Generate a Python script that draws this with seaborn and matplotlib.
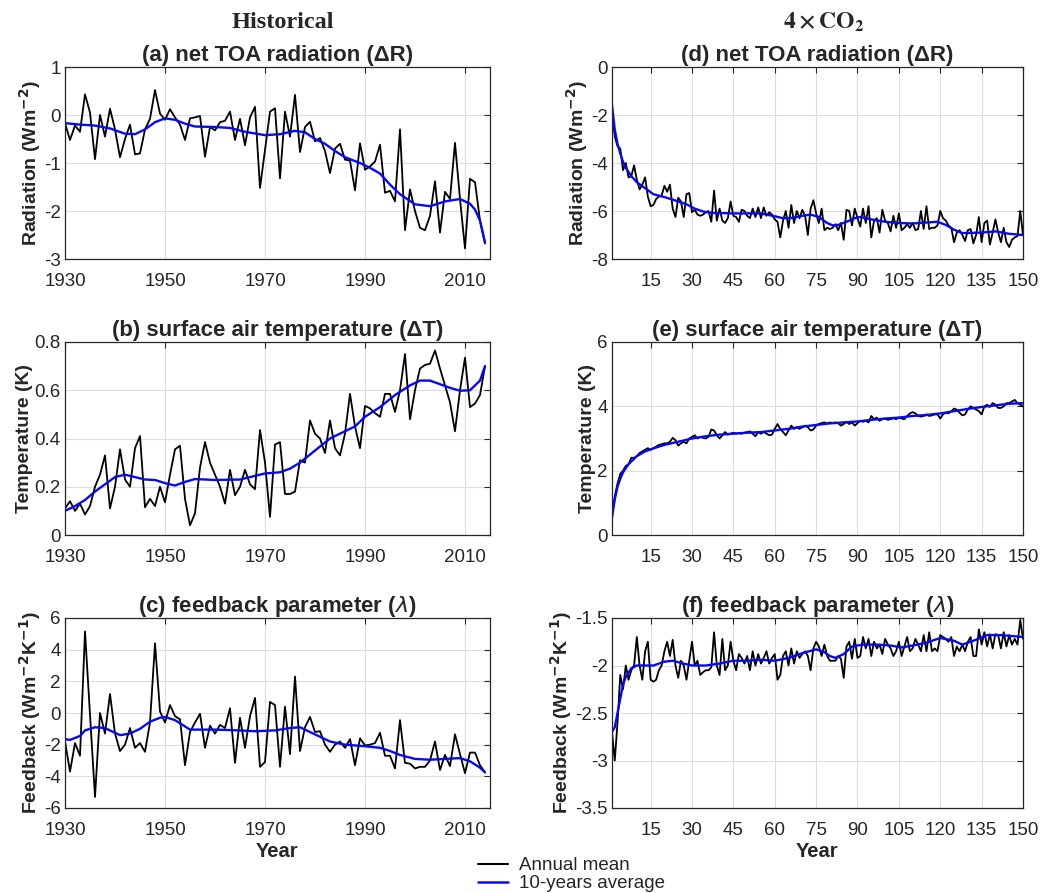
import numpy as np
import pandas as pd
import matplotlib
matplotlib.use('Agg')
import matplotlib.pyplot as plt
from matplotlib.lines import Line2D
import seaborn as sns
# Import the plotting packages

hist_years = list(range(1930, 2015))
exp_years = list(range(1, 151))

rad_hist = [-0.17, -0.52, -0.22, -0.35, 0.43, 0.05, -0.92, 0.00, -0.45, 0.13,
            -0.30, -0.88, -0.50, -0.20, -0.82, -0.80, -0.30, -0.08, 0.52, 0.03,
            -0.10, 0.12, -0.05, -0.20, -0.52, -0.07, -0.05, -0.02, -0.87, -0.25,
            -0.32, -0.15, -0.12, 0.07, -0.52, -0.08, -0.63, -0.05, 0.17, -1.52,
            -0.73, 0.07, 0.14, -1.32, 0.07, -0.45, 0.42, -0.77, -0.25, -0.14,
            -0.55, -0.48, -0.75, -1.21, -0.70, -0.60, -0.93, -0.95, -1.57, -0.59,
            -1.14, -1.07, -0.97, -0.62, -1.62, -1.58, -1.80, -0.30, -2.40, -1.55,
            -2.00, -2.35, -2.40, -2.10, -1.38, -2.45, -1.60, -1.75, -0.58, -1.75,
            -2.78, -1.33, -1.40, -2.20, -2.68]
rad_hist_smooth_years = [1930, 1933, 1936, 1939, 1942, 1944, 1946, 1948, 1950, 1952, 1954, 1956,
                         1960, 1963, 1966, 1970, 1973, 1976, 1978, 1980, 1982, 1984, 1986, 1989,
                         1991, 1993, 1995, 1997, 2000, 2003, 2006, 2009, 2011, 2012, 2013, 2014]
rad_hist_smooth = [-0.17, -0.20, -0.22, -0.28, -0.39, -0.40, -0.30, -0.15, -0.07, -0.10, -0.18, -0.24,
                   -0.25, -0.27, -0.35, -0.42, -0.40, -0.33, -0.36, -0.50, -0.60, -0.75, -0.88, -1.00,
                   -1.10, -1.22, -1.45, -1.65, -1.86, -1.90, -1.80, -1.75, -1.85, -1.97, -2.20, -2.65]

temp_hist = [0.11, 0.14, 0.10, 0.13, 0.085, 0.12, 0.20, 0.25, 0.33, 0.11,
             0.20, 0.355, 0.23, 0.20, 0.36, 0.41, 0.115, 0.15, 0.12, 0.20,
             0.135, 0.25, 0.355, 0.37, 0.15, 0.04, 0.09, 0.28, 0.385, 0.30,
             0.25, 0.20, 0.13, 0.27, 0.165, 0.20, 0.27, 0.21, 0.19, 0.435,
             0.30, 0.075, 0.375, 0.385, 0.17, 0.17, 0.18, 0.31, 0.30, 0.475,
             0.42, 0.40, 0.34, 0.475, 0.36, 0.33, 0.42, 0.585, 0.45, 0.36,
             0.535, 0.525, 0.505, 0.49, 0.585, 0.585, 0.51, 0.60, 0.75, 0.48,
             0.60, 0.69, 0.705, 0.71, 0.765, 0.69, 0.62, 0.55, 0.43, 0.60,
             0.735, 0.53, 0.545, 0.58, 0.70]
temp_hist_smooth_years = [1930, 1932, 1934, 1936, 1938, 1940, 1942, 1944, 1946, 1948, 1950, 1952,
                          1954, 1956, 1960, 1965, 1968, 1970, 1973, 1975, 1977, 1980, 1983, 1986,
                          1988, 1990, 1993, 1996, 1999, 2001, 2003, 2005, 2007, 2009, 2011, 2013, 2014]
temp_hist_smooth = [0.10, 0.12, 0.145, 0.18, 0.21, 0.24, 0.25, 0.24, 0.23, 0.228, 0.215, 0.205,
                    0.22, 0.232, 0.228, 0.23, 0.245, 0.255, 0.26, 0.275, 0.30, 0.35, 0.40, 0.43,
                    0.45, 0.49, 0.53, 0.58, 0.62, 0.64, 0.64, 0.625, 0.61, 0.598, 0.60, 0.64, 0.70]

fb_hist = [-1.80, -3.70, -1.90, -2.70, 5.15, -0.10, -5.30, 0.00, -1.30, 1.20,
           -1.30, -2.40, -2.00, -0.95, -2.20, -1.90, -2.45, -0.60, 4.40, 0.10,
           -0.60, 0.50, -0.20, -0.40, -3.30, -1.20, -0.60, -0.05, -2.20, -0.80,
           -1.30, -0.75, -0.95, 0.30, -3.15, -0.30, -2.20, -0.20, 0.95, -3.40,
           -3.10, 0.70, 0.50, -3.40, 0.40, -2.60, 2.30, -2.40, -0.90, -0.25,
           -1.20, -1.15, -2.00, -2.45, -2.00, -1.80, -2.20, -1.65, -3.30, -1.60,
           -2.05, -2.00, -1.90, -1.25, -2.70, -2.70, -3.50, -0.45, -3.15, -3.20,
           -3.50, -3.40, -3.40, -3.00, -1.80, -3.60, -2.65, -3.35, -1.35, -2.60,
           -3.80, -2.50, -2.50, -3.30, -3.75]
fb_hist_smooth_years = [1930, 1931, 1933, 1934, 1936, 1938, 1941, 1943, 1945, 1947, 1949, 1950,
                        1952, 1954, 1955, 1960, 1965, 1968, 1972, 1975, 1977, 1979, 1981, 1983,
                        1986, 1990, 1993, 1995, 1997, 2000, 2003, 2006, 2009, 2011, 2013, 2014]
fb_hist_smooth = [-1.65, -1.70, -1.45, -1.10, -0.90, -0.95, -1.40, -1.30, -1.00, -0.55, -0.30, -0.25,
                  -0.45, -0.85, -1.05, -1.05, -1.10, -1.15, -1.10, -0.95, -0.90, -1.20, -1.50, -1.80,
                  -2.00, -2.10, -2.20, -2.40, -2.65, -2.90, -2.95, -2.90, -2.85, -3.05, -3.45, -3.75]

rad_4x = [-1.8, -2.9, -3.3, -3.4, -4.3, -4.0, -4.6, -4.55, -4.1, -4.7,
          -5.1, -4.9, -4.6, -5.4, -5.8, -5.75, -5.5, -5.4, -5.35, -4.95,
          -5.2, -4.9, -5.9, -6.25, -5.45, -5.6, -6.25, -5.3, -5.25, -6.05,
          -5.95, -6.15, -6.2, -6.15, -6.05, -6.0, -6.45, -5.15, -6.4, -5.9,
          -6.4, -6.5, -6.3, -5.6, -6.2, -6.25, -6.45, -5.95, -6.0, -6.2,
          -6.3, -5.9, -6.25, -5.85, -6.3, -5.85, -6.2, -6.05, -6.15, -6.35,
          -6.45, -7.1, -6.4, -6.0, -6.7, -5.75, -6.5, -6.0, -6.3, -5.95,
          -6.2, -7.0, -5.9, -5.55, -6.1, -6.5, -5.9, -6.8, -6.7, -6.75,
          -6.7, -6.55, -6.8, -6.5, -7.2, -5.95, -6.0, -6.6, -5.9, -6.3,
          -6.65, -5.9, -6.5, -5.8, -7.1, -6.4, -6.3, -6.9, -5.95, -6.4,
          -6.5, -6.85, -6.2, -6.7, -6.1, -6.8, -6.7, -6.55, -6.7, -6.5,
          -6.8, -6.75, -6.0, -6.75, -5.8, -6.75, -6.7, -6.7, -6.6, -6.0,
          -6.3, -6.4, -6.6, -6.7, -7.3, -6.9, -6.8, -7.0, -7.25, -6.8,
          -6.75, -7.35, -7.0, -6.25, -7.3, -6.5, -6.4, -7.4, -6.9, -6.35,
          -6.9, -7.3, -6.7, -7.3, -7.5, -7.2, -7.1, -7.05, -6.0, -7.0]
rad_4x_smooth_years = [1, 2, 3, 4, 5, 6, 8, 10, 13, 16, 20, 25, 28, 31, 34, 37, 45, 55, 60, 63, 67, 70,
                       73, 76, 79, 81, 83, 86, 89, 91, 95, 100, 105, 110, 115, 119, 122, 125, 128,
                       135, 140, 145, 150]
rad_4x_smooth = [-1.6, -2.6, -3.2, -3.6, -3.95, -4.2, -4.55, -4.8, -5.05, -5.3, -5.42, -5.6, -5.72,
                 -5.9, -6.02, -6.08, -6.1, -6.1, -6.22, -6.3, -6.28, -6.2, -6.15, -6.25, -6.5, -6.6,
                 -6.58, -6.45, -6.3, -6.25, -6.35, -6.45, -6.5, -6.52, -6.48, -6.45, -6.58, -6.78,
                 -6.92, -6.9, -6.85, -6.95, -7.0]

temp_4x = [0.6, 1.2, 1.6, 1.9, 2.0, 2.15, 2.2, 2.4, 2.4, 2.45,
           2.55, 2.6, 2.65, 2.7, 2.65, 2.7, 2.75, 2.8, 2.82, 2.85,
           2.85, 2.9, 3.02, 2.95, 2.78, 2.85, 2.9, 2.85, 3.0, 3.05,
           3.1, 3.0, 3.05, 3.02, 3.0, 3.05, 3.28, 3.25, 3.1, 3.0,
           3.1, 3.2, 3.12, 3.15, 3.18, 3.15, 3.17, 3.15, 3.18, 3.2,
           3.22, 3.15, 3.07, 3.2, 3.15, 3.2, 3.15, 3.1, 3.12, 3.3,
           3.45, 3.3, 3.2, 3.1, 3.25, 3.4, 3.3, 3.35, 3.3, 3.35,
           3.4, 3.35, 3.25, 3.28, 3.4, 3.45, 3.48, 3.5, 3.47, 3.5,
           3.48, 3.5, 3.47, 3.4, 3.45, 3.52, 3.45, 3.5, 3.4, 3.48,
           3.55, 3.52, 3.55, 3.5, 3.7, 3.6, 3.65, 3.55, 3.6, 3.62,
           3.58, 3.6, 3.63, 3.6, 3.65, 3.62, 3.6, 3.7, 3.78, 3.82,
           3.78, 3.7, 3.68, 3.7, 3.75, 3.7, 3.72, 3.75, 3.75, 3.62,
           3.75, 3.8, 3.78, 3.85, 3.93, 3.9, 3.8, 3.72, 3.75, 3.9,
           4.0, 3.95, 3.9, 3.85, 3.75, 4.0, 4.05, 3.98, 4.1, 4.05,
           3.95, 3.95, 4.0, 4.1, 4.1, 4.15, 4.2, 4.1, 4.05, 4.0]
temp_4x_smooth_years = [1, 2, 3, 4, 5, 7, 10, 13, 17, 20, 25, 30, 35, 40, 45, 50, 55, 60, 65, 70,
                        75, 80, 85, 90, 95, 100, 105, 110, 115, 120, 125, 130, 135, 140, 145, 150]
temp_4x_smooth = [0.55, 1.1, 1.5, 1.75, 1.95, 2.2, 2.45, 2.6, 2.72, 2.8, 2.9, 3.0, 3.07, 3.12, 3.15,
                  3.18, 3.2, 3.25, 3.3, 3.37, 3.42, 3.47, 3.5, 3.53, 3.58, 3.62, 3.65, 3.7, 3.73,
                  3.78, 3.85, 3.92, 3.98, 4.03, 4.08, 4.1]

fb_4x = [-2.7, -3.0, -2.6, -2.1, -2.25, -2.0, -2.15, -2.05, -2.0, -1.7,
         -2.0, -2.15, -1.85, -1.75, -2.15, -2.17, -2.15, -2.05, -2.0, -1.85,
         -1.75, -1.9, -1.73, -2.0, -2.13, -1.95, -2.0, -2.15, -1.95, -1.75,
         -2.0, -1.95, -2.1, -2.07, -2.05, -2.05, -2.02, -1.65, -2.0, -2.1,
         -1.72, -2.05, -2.0, -1.75, -1.95, -2.05, -1.88, -1.92, -1.98, -1.9,
         -2.05, -1.85, -2.0, -1.88, -1.98, -1.92, -1.85, -1.98, -1.92, -1.88,
         -2.15, -2.1, -1.9, -1.85, -2.0, -1.82, -1.98, -1.85, -1.92, -1.88,
         -1.85, -1.9, -2.05, -1.82, -1.75, -1.8, -1.9, -1.78, -1.9, -1.95,
         -1.95, -1.95, -1.9, -1.93, -2.13, -1.8, -1.75, -1.93, -1.72, -1.92,
         -1.9, -1.7, -1.82, -1.72, -1.9, -1.75, -1.82, -1.78, -1.88, -1.72,
         -1.78, -1.82, -1.9, -1.85, -1.75, -1.9, -1.8, -1.7, -1.85, -1.82,
         -1.72, -1.78, -1.85, -1.68, -1.85, -1.65, -1.85, -1.82, -1.85, -1.68,
         -1.7, -1.72, -1.75, -1.7, -1.9, -1.8, -1.85, -1.78, -1.85, -1.75,
         -1.7, -1.9, -1.9, -1.62, -1.78, -1.65, -1.8, -1.67, -1.82, -1.67,
         -1.68, -1.82, -1.65, -1.8, -1.68, -1.78, -1.72, -1.78, -1.52, -1.72]
fb_4x_smooth_years = [1, 2, 3, 4, 5, 6, 8, 10, 13, 16, 20, 23, 27, 30, 35, 40, 45, 50, 55, 60, 65,
                      70, 75, 78, 80, 82, 85, 88, 92, 97, 102, 106, 110, 115, 120, 125, 128, 132,
                      137, 142, 146, 150]
fb_4x_smooth = [-2.7, -2.65, -2.5, -2.35, -2.2, -2.12, -2.03, -2.0, -2.0, -2.0, -1.96, -1.95, -1.98,
                -2.0, -2.0, -1.98, -1.95, -1.95, -1.94, -1.95, -1.92, -1.87, -1.83, -1.86, -1.9,
                -1.92, -1.88, -1.8, -1.78, -1.78, -1.79, -1.81, -1.79, -1.76, -1.71, -1.74, -1.78,
                -1.74, -1.68, -1.68, -1.69, -1.7]
# Annual means and 10-year averages

sns.set_theme(style="whitegrid")
plt.rcParams['font.family'] = ['Liberation Sans', 'DejaVu Sans']
plt.rcParams['axes.unicode_minus'] = False
plt.rcParams['xtick.direction'] = 'in'
plt.rcParams['ytick.direction'] = 'in'

fig = plt.figure(figsize=(10.6, 8.93), dpi=100)

W, H = 1060, 893
rows = [(67, 259), (342, 535), (618, 808)]
cols = [(65, 490), (612, 1023)]


def make_axes(col, row):
    x0, x1 = cols[col]
    top, bot = rows[row]
    return fig.add_axes([x0 / W, 1 - bot / H, (x1 - x0) / W, (bot - top) / H])


def draw_panel(ax, x, annual, xs, smooth, title, ylabel, xlim, xticks, ylim, yticks, xlabel=None):
    sns.lineplot(x=x, y=annual, ax=ax, color='black', linewidth=1.3, legend=False)
    sns.lineplot(x=xs, y=smooth, ax=ax, color='#0a0ae8', linewidth=1.7, legend=False)
    ax.set_xlim(*xlim)
    ax.set_ylim(*ylim)
    ax.set_xticks(xticks)
    ax.set_yticks(yticks)
    ax.set_yticklabels(['%g' % v for v in yticks])
    ax.set_title(title, fontsize=16, fontweight='bold', pad=4)
    ax.set_ylabel(ylabel, fontsize=14, fontweight='bold', labelpad=1)
    ax.set_xlabel(xlabel if xlabel else '', fontsize=14.5, fontweight='bold', labelpad=2)
    ax.grid(True, color='#dddddd', linewidth=0.8)
    ax.tick_params(axis='both', labelsize=13.5, colors='#262626', length=4, width=0.8,
                   top=True, right=True)
    ax.tick_params(axis='x', pad=10)
    ax.tick_params(axis='y', pad=3)
    for s in ax.spines.values():
        s.set_color('#262626')
        s.set_linewidth(0.9)


hist_ticks = [1930, 1950, 1970, 1990, 2010]
exp_ticks = list(range(15, 151, 15))

ax = make_axes(0, 0)
draw_panel(ax, hist_years, rad_hist, rad_hist_smooth_years, rad_hist_smooth,
           '(a) net TOA radiation (ΔR)', r'Radiation (Wm$^{\mathbf{-2}}$)',
           (1930, 2015), hist_ticks, (-3, 1), [-3, -2, -1, 0, 1])
ax = make_axes(0, 1)
draw_panel(ax, hist_years, temp_hist, temp_hist_smooth_years, temp_hist_smooth,
           '(b) surface air temperature (ΔT)', 'Temperature (K)',
           (1930, 2015), hist_ticks, (0, 0.8), [0, 0.2, 0.4, 0.6, 0.8])
ax = make_axes(0, 2)
draw_panel(ax, hist_years, fb_hist, fb_hist_smooth_years, fb_hist_smooth,
           r'(c) feedback parameter ($\lambda$)', r'Feedback (Wm$^{\mathbf{-2}}$K$^{\mathbf{-1}}$)',
           (1930, 2015), hist_ticks, (-6, 6), [-6, -4, -2, 0, 2, 4, 6], xlabel='Year')
ax = make_axes(1, 0)
draw_panel(ax, exp_years, rad_4x, rad_4x_smooth_years, rad_4x_smooth,
           '(d) net TOA radiation (ΔR)', r'Radiation (Wm$^{\mathbf{-2}}$)',
           (1, 150), exp_ticks, (-8, 0), [-8, -6, -4, -2, 0])
ax = make_axes(1, 1)
draw_panel(ax, exp_years, temp_4x, temp_4x_smooth_years, temp_4x_smooth,
           '(e) surface air temperature (ΔT)', 'Temperature (K)',
           (1, 150), exp_ticks, (0, 6), [0, 2, 4, 6])
ax = make_axes(1, 2)
draw_panel(ax, exp_years, fb_4x, fb_4x_smooth_years, fb_4x_smooth,
           r'(f) feedback parameter ($\lambda$)', r'Feedback (Wm$^{\mathbf{-2}}$K$^{\mathbf{-1}}$)',
           (1, 150), exp_ticks, (-3.5, -1.5), [-3.5, -3, -2.5, -2, -1.5], xlabel='Year')
# Six panels, historical run on the left and the 4xCO2 run on the right

fig.text(283 / W, 1 - 22 / H, 'Historical', ha='center', va='center', fontsize=17.5,
         fontweight='bold', family=['Liberation Serif', 'DejaVu Serif'])
fig.text(823 / W, 1 - 22 / H, r'$\mathbf{4\times CO_2}$', ha='center', va='center', fontsize=17,
         math_fontfamily='stix')

handles = [Line2D([], [], color='black', linewidth=1.5), Line2D([], [], color='#0a0ae8', linewidth=1.8)]
fig.legend(handles, ['Annual mean', '10-years average'], loc='upper left',
           bbox_to_anchor=(478 / W, 1 - 857 / H), frameon=False, fontsize=13.5,
           handlelength=1.6, handletextpad=0.6, labelspacing=0.05, borderpad=0, borderaxespad=0)

fig.savefig('out.png', dpi=100)
